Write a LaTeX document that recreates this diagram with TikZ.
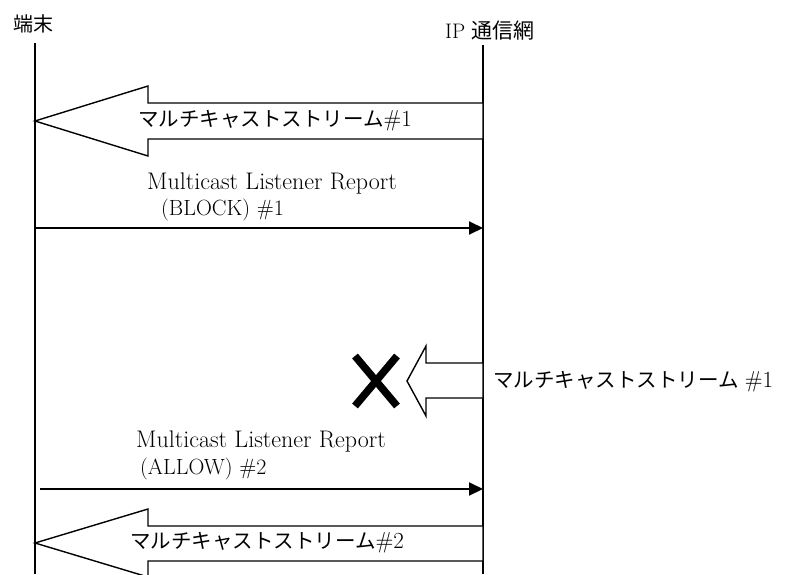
\documentclass[tikz,border=0pt]{standalone}
\usepackage{fontspec}
\newfontfamily\jp{Noto Sans CJK JP}
\usetikzlibrary{arrows.meta}
\newcommand\numtag[1]{{\fontsize{23}{26}\selectfont\##1}}
\begin{document}
\begin{tikzpicture}[x=1pt,y=-1pt,
  lat/.style={font=\fontsize{22}{26}\selectfont, inner sep=0pt, anchor=base west},
  latw/.style={lat, font=\fontsize{24}{26}\selectfont},
  jlab/.style={font=\fontsize{20.5}{24}\selectfont, inner sep=0pt, anchor=west},
  life/.style={line width=1.2pt},
  msg/.style={line width=2pt, -{Triangle[length=14pt,width=13pt]}},
  fat/.style={line width=1.4pt, fill=white, line join=miter},
  cross/.style={line width=7.5pt, line cap=butt}]
\useasboundingbox (0,0) rectangle (787,574);

% headers
\node[lat, font=\jp\fontsize{20}{24}\selectfont] (hterm) at (13,31) {端末};
\node[lat, font=\fontsize{21}{24}\selectfont] (hnet) at (445,38) {IP {\jp 通信網}};

% lifelines
\coordinate (ltop) at (35,43);
\coordinate (lbot) at (35,574);
\coordinate (rtop) at (483,45);
\coordinate (rbot) at (483,574);
\draw[life] (ltop) -- (lbot);
\draw[life] (rtop) -- (rbot);

% stream #1 (fat arrow to terminal)
\coordinate (s1tip) at (35,121);
\draw[fat] (s1tip) -- (148,86) -- (148,103) -- (483,103) -- (483,139) -- (148,139) -- (148,156) -- cycle;
\node[jlab] (s1lab) at (138,121) {{\jp マルチキャストストリーム}\numtag{1}};

% Listener report BLOCK
\node[latw] (b1) at (147,189) {Multicast Listener Report};
\node[lat] (b2) at (161,215) {(BLOCK) \#1};
\coordinate (bs) at (35,228);
\coordinate (be) at (483,228);
\draw[msg] (bs) -- (be);

% blocked stream #1
\coordinate (s2tip) at (407,381);
\draw[fat] (s2tip) -- (426,346) -- (426,363) -- (483,363) -- (483,398) -- (426,398) -- (426,416) -- cycle;
\draw[cross] (355,356) -- (397,406);
\draw[cross] (397,356) -- (355,406);
\node[jlab] (s2lab) at (493,382) {{\jp マルチキャストストリーム} \numtag{1}};

% Listener report ALLOW
\node[latw] (a1) at (136,447) {Multicast Listener Report};
\node[lat] (a2) at (140,474) {(ALLOW) \#2};
\coordinate (as) at (40,489);
\coordinate (ae) at (483,489);
\draw[msg] (as) -- (ae);

% stream #2
\coordinate (s3tip) at (35,543);
\draw[fat] (s3tip) -- (148,509) -- (148,526) -- (483,526) -- (483,561) -- (148,561) -- (148,577) -- cycle;
\node[jlab] (s3lab) at (130,543) {{\jp マルチキャストストリーム}\numtag{2}};
\end{tikzpicture}
\end{document}
